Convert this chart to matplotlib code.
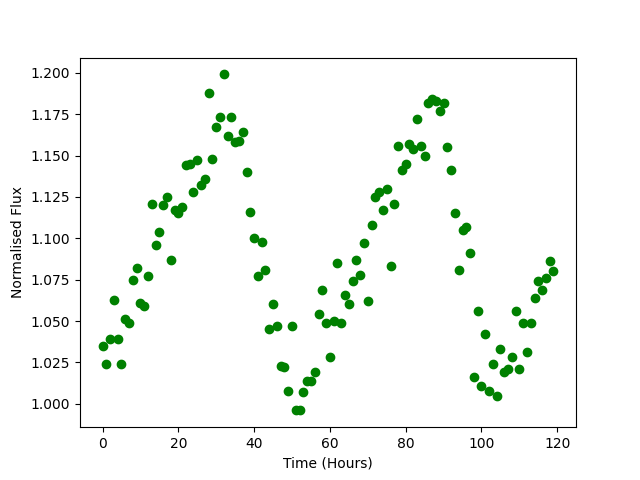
import numpy as np
import matplotlib
matplotlib.use("Agg")
import matplotlib.pyplot as plt

hours = list(range(120))
flux = [
    1.035, 1.024, 1.039, 1.063, 1.039, 1.024, 1.051, 1.049, 1.075, 1.082,
    1.061, 1.059, 1.077, 1.121, 1.096, 1.104, 1.120, 1.125, 1.087, 1.117,
    1.115, 1.119, 1.144, 1.145, 1.128, 1.147, 1.132, 1.136, 1.188, 1.148,
    1.167, 1.173, 1.199, 1.162, 1.173, 1.158, 1.159, 1.164, 1.140, 1.116,
    1.100, 1.077, 1.098, 1.081, 1.045, 1.060, 1.047, 1.023, 1.022, 1.008,
    1.047, 0.996, 0.996, 1.007, 1.014, 1.014, 1.019, 1.054, 1.069, 1.049,
    1.028, 1.050, 1.085, 1.049, 1.066, 1.060, 1.074, 1.087, 1.078, 1.097,
    1.062, 1.108, 1.125, 1.128, 1.117, 1.130, 1.083, 1.121, 1.156, 1.141,
    1.145, 1.157, 1.154, 1.172, 1.156, 1.150, 1.182, 1.184, 1.183, 1.177,
    1.182, 1.155, 1.141, 1.115, 1.081, 1.105, 1.107, 1.091, 1.016, 1.056,
    1.011, 1.042, 1.008, 1.024, 1.005, 1.033, 1.019, 1.021, 1.028, 1.056,
    1.021, 1.049, 1.031, 1.049, 1.064, 1.074, 1.069, 1.076, 1.086, 1.080,
]

fig, ax = plt.subplots(figsize=(6.4, 4.8), dpi=100)
ax.plot(hours, flux, 'o', color='green')
ax.set_xlabel('Time (Hours)')
ax.set_ylabel('Normalised Flux')
fig.savefig('out.png')
